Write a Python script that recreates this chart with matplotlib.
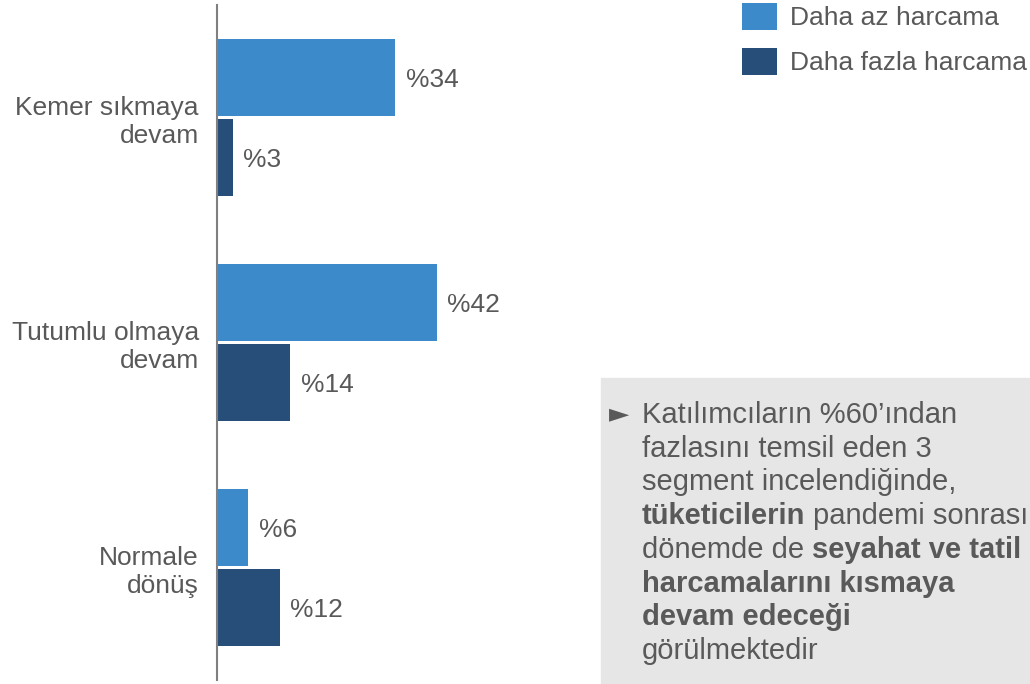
import numpy as np
import matplotlib
matplotlib.use("Agg")
from matplotlib import pyplot as plt
from matplotlib.patches import Rectangle

plt.rcParams['font.family'] = ['Liberation Sans', 'DejaVu Sans']

# data
categories = ["Kemer sıkmaya\ndevam", "Tutumlu olmaya\ndevam", "Normale\ndönüş"]
series_names = ["Daha az harcama", "Daha fazla harcama"]
less_spend = [34, 42, 6]
more_spend = [3, 14, 12]

# note text: list of lines, each a list of (text, bold)
note_lines = [
    [("Katılımcıların %60’ından", False)],
    [("fazlasını temsil eden 3", False)],
    [("segment incelendiğinde,", False)],
    [("tüketicilerin", True), ("pandemi sonrası", False)],
    [("dönemde de", False), ("seyahat ve tatil", True)],
    [("harcamalarını kısmaya", True)],
    [("devam edeceği", True)],
    [("görülmektedir", False)],
]

c_light = "#3C8AC9"
c_dark = "#264E78"
c_text = "#595959"

W, H = 1030, 684
fig = plt.figure(figsize=(W / 100, H / 100), dpi=100)
ax = fig.add_axes([217 / W, 4 / H, (600 - 217) / W, (679 - 4) / H])
ax.set_facecolor("none")

y = np.arange(len(categories))
h = 0.345
off = 0.178
b1 = ax.barh(y - off, less_spend, height=h, color=c_light, label=series_names[0])
b2 = ax.barh(y + off, more_spend, height=h, color=c_dark, label=series_names[1])

for bars, vals in ((b1, less_spend), (b2, more_spend)):
    for bar, v in zip(bars, vals):
        ax.annotate(f"%{v}", xy=(bar.get_width(), bar.get_y() + bar.get_height() / 2),
                    xytext=(7.5, 0), textcoords="offset points",
                    ha="left", va="center_baseline", fontsize=19, color=c_text)

ax.set_xlim(0, 73.1)
ax.set_ylim(2.5, -0.5)
ax.set_yticks(y)
ax.set_yticklabels(categories, fontsize=19, color=c_text)
ax.tick_params(axis="y", length=0, pad=13)
ax.set_xticks([])
for s in ("top", "right", "bottom"):
    ax.spines[s].set_visible(False)
ax.spines["left"].set_color("#808080")
ax.spines["left"].set_linewidth(1.5)

fig.legend(handles=[b1, b2], loc="upper left", bbox_to_anchor=(742 / W, 1 - 3 / H),
           frameon=False, borderpad=0, borderaxespad=0, fontsize=19,
           handlelength=1.33, handleheight=1.2, handletextpad=0.5,
           labelspacing=0.65, labelcolor=c_text)

# note box
fig.add_artist(Rectangle((601 / W, 0), (W - 601) / W, (H - 378) / H,
                         transform=fig.transFigure, color="#E6E6E6", zorder=0))

fs = 21
space_pt = 0.278 * fs
base0 = 423
pitch = 33.7
fig.text(609 / W, 1 - (base0 - 2) / H, "►", fontsize=19, color=c_text,
         va="baseline", ha="left", family=["DejaVu Sans"])
for i, line in enumerate(note_lines):
    prev = None
    for txt, bold in line:
        w = "bold" if bold else "normal"
        if prev is None:
            prev = fig.text(642 / W, 1 - (base0 + i * pitch) / H, txt, fontsize=fs,
                            color=c_text, weight=w, va="baseline", ha="left")
        else:
            prev = fig.add_artist(plt.Annotation(
                txt, xy=(1, 0), xycoords=prev, xytext=(space_pt, 0),
                textcoords="offset points", fontsize=fs, color=c_text,
                weight=w, va="bottom", ha="left"))

fig.savefig("out.png", dpi=100)
